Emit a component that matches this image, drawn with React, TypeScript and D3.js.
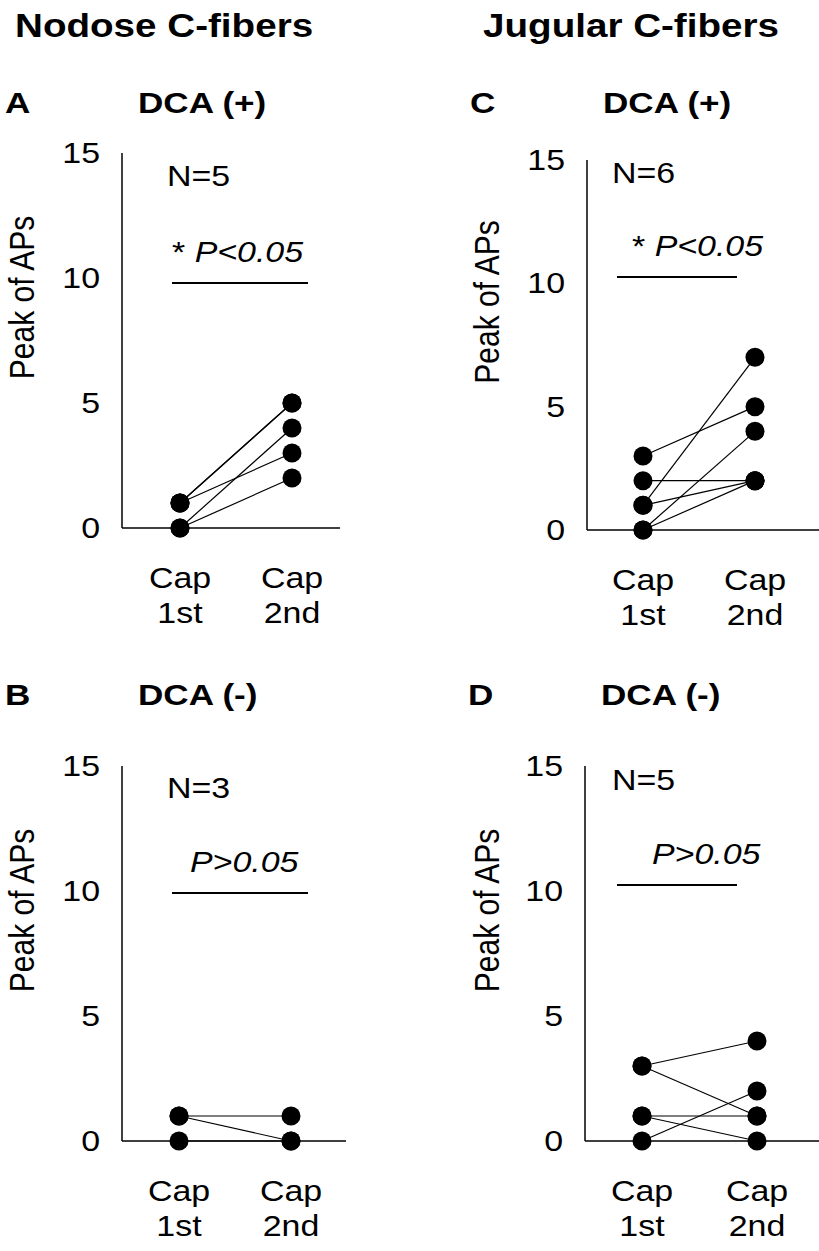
import React from "react";
import * as d3 from "d3";

const categories = ["1st", "2nd"];
const yTicks = [0, 5, 10, 15];

// paired values (Cap 1st -> Cap 2nd)
const nodosePos1st = [1, 1, 1, 0, 0];
const nodosePos2nd = [5, 5, 3, 4, 2];
const nodoseNeg1st = [1, 1, 0];
const nodoseNeg2nd = [1, 0, 0];
const jugularPos1st = [3, 2, 1, 1, 0, 0];
const jugularPos2nd = [5, 2, 7, 2, 4, 2];
const jugularNeg1st = [3, 3, 1, 1, 0];
const jugularNeg2nd = [4, 1, 1, 0, 2];

const panels = [
  { letter: "A", title: "DCA (+)", n: "N=5", p: "P<0.05", star: true, a: nodosePos1st, b: nodosePos2nd,
    ax: 122, y0: 528, yTop: 153, xEnd: 340, x1: 180, x2: 292, lx: 5, ly: 113,
    nx: 167, ny: 186, sx1: 172, sx2: 308, sy: 283, stx: 172, sty: 262, ylx: 34 },
  { letter: "B", title: "DCA (-)", n: "N=3", p: "P>0.05", star: false, a: nodoseNeg1st, b: nodoseNeg2nd,
    ax: 122, y0: 1141, yTop: 766, xEnd: 346, x1: 179, x2: 291, lx: 5, ly: 705,
    nx: 167, ny: 798, sx1: 172, sx2: 308, sy: 893, stx: 190, sty: 872, ylx: 34 },
  { letter: "C", title: "DCA (+)", n: "N=6", p: "P<0.05", star: true, a: jugularPos1st, b: jugularPos2nd,
    ax: 587, y0: 530, yTop: 160, xEnd: 819, x1: 643, x2: 755, lx: 470, ly: 113,
    nx: 612, ny: 183, sx1: 617, sx2: 737, sy: 277, stx: 632, sty: 256, ylx: 499 },
  { letter: "D", title: "DCA (-)", n: "N=5", p: "P>0.05", star: false, a: jugularNeg1st, b: jugularNeg2nd,
    ax: 585, y0: 1141, yTop: 766, xEnd: 819, x1: 642, x2: 757, lx: 468, ly: 705,
    nx: 612, ny: 790, sx1: 617, sx2: 737, sy: 885, stx: 652, sty: 864, ylx: 499 },
];

const FONT = "'Liberation Sans', Arial, sans-serif";
const SX = 1.17;

function T({ x, y, size, bold, anchor, rotate, children }: any) {
  const tr = `translate(${x},${y})${rotate ? ` rotate(${rotate})` : ""} scale(${rotate ? 1 : SX},${rotate ? SX : 1})`;
  return (
    <text transform={tr} fontFamily={FONT} fontSize={size} fontWeight={bold ? "bold" : "normal"}
      textAnchor={anchor || "start"}>{children}</text>
  );
}

function Panel({ cfg }: { cfg: any }) {
  const y = d3.scaleLinear().domain([0, 15]).range([cfg.y0, cfg.yTop]);
  const x = d3.scalePoint().domain(categories).range([cfg.x1, cfg.x2]);
  const pairs = cfg.a.map((v: number, i: number) => [v, cfg.b[i]]);
  const line = d3.line<[string, number]>().x((d) => x(d[0])!).y((d) => y(d[1]));
  return (
    <g>
      <T x={cfg.lx} y={cfg.ly} size={30} bold>{cfg.letter}</T>
      <T x={cfg.ax + 16} y={cfg.ly} size={30} bold>{cfg.title}</T>
      <T x={cfg.ylx} y={(cfg.y0 + cfg.yTop) / 2 - 43} size={30} anchor="middle" rotate={-90}>Peak of APs</T>
      {yTicks.map((t) => (
        <T key={t} x={cfg.ax - 22} y={y(t) + 10} size={29} anchor="end">{t}</T>
      ))}
      <line x1={cfg.ax} x2={cfg.ax} y1={cfg.yTop} y2={cfg.y0} stroke="#000" strokeWidth={1.5} />
      <line x1={cfg.ax} x2={cfg.xEnd} y1={cfg.y0} y2={cfg.y0} stroke="#000" strokeWidth={1.5} />
      <T x={cfg.nx} y={cfg.ny} size={29}>{cfg.n}</T>
      <T x={cfg.stx} y={cfg.sty} size={29}>
        {cfg.star ? <tspan>* </tspan> : null}
        <tspan fontStyle="italic">{cfg.p}</tspan>
      </T>
      <line x1={cfg.sx1} x2={cfg.sx2} y1={cfg.sy} y2={cfg.sy} stroke="#000" strokeWidth={2} />
      {pairs.map((pr: number[], i: number) => (
        <path key={i} d={line([[categories[0], pr[0]], [categories[1], pr[1]]])!} fill="none" stroke="#000" strokeWidth={1.2} />
      ))}
      {pairs.map((pr: number[], i: number) => (
        <g key={"c" + i}>
          <circle cx={x(categories[0])} cy={y(pr[0])} r={9.5} fill="#000" />
          <circle cx={x(categories[1])} cy={y(pr[1])} r={9.5} fill="#000" />
        </g>
      ))}
      {categories.map((c) => (
        <g key={c}>
          <T x={x(c)} y={cfg.y0 + 60} size={29} anchor="middle">Cap</T>
          <T x={x(c)} y={cfg.y0 + 95} size={29} anchor="middle">{c}</T>
        </g>
      ))}
    </g>
  );
}

export default function App() {
  return (
    <svg width={819} height={1251} style={{ position: "absolute", left: 0, top: 0, background: "#fff" }}>
      <rect width={819} height={1251} fill="#fff" />
      <T x={15} y={37} size={33} bold>Nodose C-fibers</T>
      <T x={483} y={37} size={33} bold>Jugular C-fibers</T>
      {panels.map((p) => <Panel key={p.letter} cfg={p} />)}
    </svg>
  );
}
